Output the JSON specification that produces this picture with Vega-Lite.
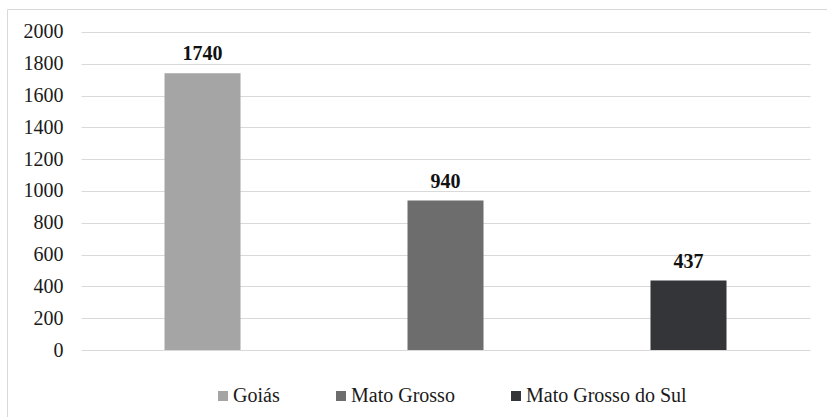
{
  "$schema": "https://vega.github.io/schema/vega-lite/v6.json",
  "width": 820,
  "height": 408,
  "autosize": "none",
  "padding": {"left": 7, "top": 9, "right": 0, "bottom": 0},
  "background": "white",
  "config": {
    "view": {"stroke": null},
    "font": "Times New Roman, Liberation Serif, serif"
  },
  "data": {
    "values": [
      {"estado": "Goiás", "valor": 1740},
      {"estado": "Mato Grosso", "valor": 940},
      {"estado": "Mato Grosso do Sul", "valor": 437}
    ]
  },
  "encoding": {
    "x": {
      "field": "estado",
      "type": "nominal",
      "sort": null,
      "scale": {"paddingInner": 0.6872, "paddingOuter": 0.5309, "align": 0.6105},
      "axis": {
        "orient": "top",
        "title": null,
        "labels": false,
        "ticks": false,
        "grid": false,
        "domain": true,
        "domainColor": "#d9d9d9",
        "domainWidth": 1
      }
    }
  },
  "layer": [
    {
      "mark": {"type": "bar"},
      "encoding": {
        "y": {
          "field": "valor",
          "type": "quantitative",
          "scale": {"domain": [-421.38, 2144.65], "nice": false, "zero": false},
          "axis": {
            "orient": "left",
            "title": null,
            "format": "d",
            "values": [0, 200, 400, 600, 800, 1000, 1200, 1400, 1600, 1800, 2000],
            "grid": false,
            "ticks": false,
            "domain": true,
            "domainColor": "#d9d9d9",
            "domainWidth": 1,
            "labelPadding": -56,
            "labelAlign": "right",
            "labelBaseline": "middle",
            "labelFont": "Times New Roman, Liberation Serif, serif",
            "labelFontSize": 20,
            "labelColor": "#1a1a1a",
            "labelOverlap": false,
            "labelFlush": false
          }
        },
        "color": {
          "field": "estado",
          "type": "nominal",
          "sort": null,
          "scale": {"range": ["#a5a5a5", "#6e6d6d", "#333538"]},
          "legend": {
            "title": null,
            "orient": "none",
            "legendX": 206,
            "legendY": 377,
            "direction": "horizontal",
            "columns": 3,
            "columnPadding": 51,
            "padding": 0,
            "symbolType": "square",
            "symbolSize": 100,
            "symbolStrokeWidth": 0,
            "symbolOpacity": 1,
            "labelOffset": 0,
            "labelFont": "Times New Roman, Liberation Serif, serif",
            "labelFontSize": 20,
            "labelColor": "#1a1a1a",
            "labelLimit": 400
          }
        }
      }
    },
    {
      "mark": {
        "type": "text",
        "font": "Times New Roman, Liberation Serif, serif",
        "fontSize": 20,
        "fontWeight": "bold",
        "baseline": "alphabetic",
        "dy": -13,
        "color": "#111111"
      },
      "encoding": {
        "y": {
          "field": "valor",
          "type": "quantitative",
          "scale": {"domain": [-421.38, 2144.65], "nice": false, "zero": false},
          "axis": {
            "orient": "right",
            "offset": -17,
            "title": null,
            "values": [0, 200, 400, 600, 800, 1000, 1200, 1400, 1600, 1800, 2000],
            "grid": false,
            "domain": false,
            "labels": false,
            "ticks": true,
            "tickSize": -729,
            "tickColor": "#d9d9d9",
            "tickWidth": 1,
            "zindex": 0
          }
        },
        "text": {"field": "valor", "type": "quantitative"}
      }
    }
  ],
  "resolve": {"axis": {"y": "independent"}}
}
